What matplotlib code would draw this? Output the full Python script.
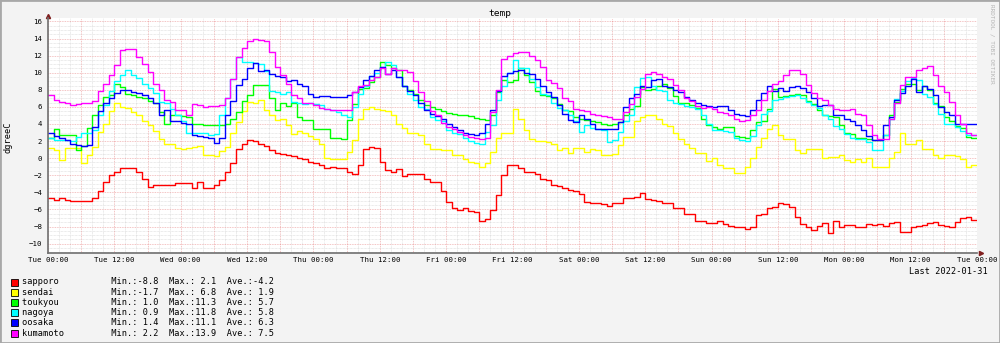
import numpy as np
import matplotlib
matplotlib.use('Agg')
import matplotlib.pyplot as plt
from matplotlib.patches import Rectangle
from matplotlib.ticker import FixedLocator, MultipleLocator

# hourly temperatures, one week starting Tue 00:00
sapporo = [
    -4.7, -4.9, -4.7, -4.9, -5.0, -5.0, -5.0, -5.0, -4.7, -3.9, -2.8, -2.0, -1.6, -1.2,
    -1.1, -1.1, -1.6, -2.4, -3.35, -3.1, -3.1, -3.2, -3.2, -2.85, -2.95, -2.85, -3.5, -2.8,
    -3.5, -3.5, -3.2, -2.6, -1.6, -0.6, 1.1, 1.7, 2.1, 2.0, 1.7, 1.45, 0.9, 0.6,
    0.5, 0.35, 0.2, 0.0, -0.1, -0.4, -0.6, -0.8, -1.1, -1.0, -1.1, -1.2, -1.6, -1.8,
    -0.8, 1.1, 1.3, 1.2, -0.4, -1.4, -1.6, -1.3, -2.1, -1.8, -1.9, -1.9, -2.4, -2.8,
    -2.8, -3.9, -5.1, -5.8, -6.1, -5.8, -6.2, -6.35, -7.4, -7.1, -6.1, -4.3, -2.0, -0.8,
    -0.8, -1.1, -1.6, -1.65, -1.8, -2.4, -2.5, -3.2, -3.3, -3.5, -3.7, -3.8, -4.2, -5.1,
    -5.2, -5.3, -5.4, -5.6, -5.3, -5.3, -4.7, -4.7, -4.6, -4.1, -4.8, -4.9, -5.0, -5.2,
    -5.2, -5.8, -5.8, -6.5, -6.5, -7.4, -7.4, -7.6, -7.6, -7.4, -7.75, -7.9, -8.0, -8.1,
    -8.3, -8.0, -6.7, -6.5, -5.8, -5.75, -5.2, -5.4, -5.7, -6.85, -7.7, -8.0, -8.4, -7.9,
    -7.6, -8.8, -7.4, -8.0, -7.8, -7.8, -8.1, -8.0, -7.75, -7.85, -7.75, -7.9, -7.6, -7.45,
    -8.6, -8.7, -8.0, -7.95, -7.8, -7.6, -7.5, -7.8, -7.95, -8.1, -7.45, -7.05, -6.9, -7.2,
]
sendai = [
    1.2, 0.95, -0.2, 1.2, 1.15, 1.15, -0.6, 0.35, 1.3, 3.1, 4.05, 5.5, 6.4, 6.0,
    5.9, 5.4, 5.0, 4.4, 3.85, 3.2, 2.2, 1.7, 1.6, 1.2, 1.1, 1.2, 1.3, 1.45,
    0.4, 0.35, 0.3, 0.8, 1.3, 2.9, 4.2, 5.5, 6.6, 6.5, 6.8, 5.6, 5.1, 4.5,
    4.6, 3.85, 2.8, 3.15, 2.9, 2.6, 2.2, 1.7, 0.0, -0.1, -0.15, -0.15, 0.75, 2.1,
    4.6, 5.8, 5.95, 5.7, 5.6, 5.5, 5.1, 4.05, 3.5, 2.9, 2.9, 2.7, 1.6, 1.1,
    1.05, 0.95, 0.95, 0.4, 0.4, -0.1, -0.5, -0.6, -1.0, -0.6, 0.75, 2.4, 2.9, 2.9,
    5.7, 4.55, 3.3, 2.2, 2.05, 2.05, 1.9, 1.7, 0.95, 1.2, 0.55, 1.2, 1.2, 0.75,
    1.1, 1.0, 0.35, 0.35, 0.45, 1.5, 2.5, 2.5, 4.4, 4.8, 5.0, 5.0, 4.6, 4.05,
    3.75, 2.9, 2.2, 1.7, 1.2, 0.55, 0.55, -0.35, 0.0, -0.8, -1.1, -1.2, -1.7, -1.7,
    -1.0, 0.0, 1.3, 2.3, 3.4, 3.85, 2.7, 2.2, 2.2, 0.95, 0.6, 1.1, 1.1, 1.05,
    0.05, 0.15, 0.15, 0.4, -0.25, -0.5, -0.1, -0.4, 0.0, -1.0, -1.0, -1.0, 0.0, 0.75,
    2.9, 1.7, 1.7, 2.1, 1.1, 1.05, 0.35, 0.05, 0.35, 0.35, 0.3, -0.1, -1.0, -0.8,
]
toukyou = [
    2.4, 3.4, 2.75, 2.75, 2.7, 1.0, 1.4, 3.5, 5.0, 6.2, 7.2, 7.4, 8.7, 8.3,
    7.55, 7.4, 7.2, 7.0, 6.7, 6.4, 5.4, 4.05, 5.0, 5.0, 4.95, 4.85, 4.05, 3.95,
    3.9, 3.85, 3.85, 3.9, 4.05, 4.6, 5.4, 6.65, 7.35, 8.6, 8.6, 8.6, 7.0, 5.6,
    6.4, 6.1, 6.4, 4.8, 4.45, 4.45, 3.4, 3.4, 3.4, 2.4, 2.3, 2.2, 4.5, 6.3,
    8.05, 8.2, 8.9, 9.5, 11.25, 10.9, 10.6, 10.3, 8.5, 7.95, 7.55, 6.8, 6.2, 6.0,
    5.8, 5.5, 5.3, 5.2, 5.1, 5.0, 4.95, 4.7, 4.55, 4.45, 5.0, 7.7, 9.1, 8.9,
    9.1, 10.5, 9.7, 8.9, 7.8, 7.35, 7.3, 7.05, 6.3, 5.6, 5.5, 4.8, 4.6, 4.5,
    4.4, 4.2, 4.0, 3.9, 4.05, 4.2, 5.0, 5.7, 6.1, 8.35, 7.95, 8.1, 8.5, 8.7,
    8.2, 7.3, 6.5, 6.4, 6.2, 5.9, 4.6, 3.85, 3.65, 3.45, 3.65, 3.65, 2.6, 2.5,
    2.4, 3.3, 4.25, 4.3, 5.8, 8.1, 7.2, 7.3, 7.35, 7.45, 7.35, 6.65, 6.3, 5.6,
    5.1, 4.9, 4.8, 3.85, 2.9, 2.8, 2.3, 2.3, 2.2, 2.1, 2.1, 2.7, 5.0, 6.6,
    8.1, 8.7, 8.7, 8.0, 8.45, 8.0, 6.5, 6.1, 4.8, 4.3, 3.75, 3.5, 2.5, 2.35,
]
nagoya = [
    2.3, 2.1, 2.1, 2.1, 2.0, 2.5, 2.9, 3.0, 3.3, 5.0, 6.2, 7.9, 9.0, 9.7,
    10.3, 9.7, 9.4, 8.7, 8.2, 7.6, 6.6, 6.4, 5.8, 5.0, 4.4, 3.0, 2.9, 2.9,
    2.9, 2.75, 2.8, 5.0, 7.0, 9.3, 11.8, 11.25, 11.25, 11.1, 11.05, 10.2, 7.9, 7.7,
    7.5, 7.7, 6.6, 6.4, 6.3, 6.4, 6.3, 6.2, 5.8, 5.6, 5.4, 5.0, 4.8, 6.0,
    7.45, 8.45, 9.6, 10.0, 10.7, 11.2, 10.9, 9.5, 8.5, 7.55, 6.8, 6.0, 5.7, 4.8,
    4.5, 4.3, 3.3, 3.0, 2.8, 2.3, 2.0, 1.8, 1.7, 3.1, 3.85, 6.8, 8.5, 10.0,
    11.45, 10.55, 10.5, 9.3, 8.35, 7.5, 7.35, 6.5, 5.9, 5.6, 5.0, 4.3, 3.1, 3.9,
    3.55, 3.4, 3.35, 1.9, 2.1, 3.1, 4.3, 5.0, 8.3, 9.4, 9.5, 8.5, 8.0, 7.8,
    6.8, 6.4, 6.3, 6.1, 5.95, 5.7, 5.0, 4.0, 3.3, 3.3, 3.2, 3.1, 2.3, 2.1,
    2.0, 2.6, 3.85, 5.2, 5.5, 6.8, 6.9, 7.1, 7.3, 7.35, 7.0, 6.6, 6.2, 5.9,
    5.0, 4.6, 3.8, 3.4, 2.8, 2.4, 2.2, 2.2, 1.9, 0.95, 0.95, 2.7, 4.55, 6.9,
    7.9, 9.0, 9.4, 9.2, 7.5, 7.15, 6.3, 5.2, 4.05, 4.0, 3.7, 3.2, 2.75, 2.7,
]
oosaka = [
    2.9, 2.6, 2.3, 2.1, 1.7, 1.5, 1.4, 1.5, 3.65, 5.5, 6.4, 7.0, 7.6, 7.95,
    7.95, 7.75, 7.6, 7.35, 7.0, 6.4, 5.1, 5.6, 4.4, 4.3, 4.1, 4.05, 2.7, 2.55,
    2.5, 2.4, 1.8, 2.4, 5.0, 6.65, 8.6, 9.3, 10.5, 11.1, 10.2, 10.3, 9.9, 9.6,
    9.5, 9.0, 9.1, 8.7, 8.45, 7.55, 7.15, 7.3, 7.3, 7.2, 7.1, 7.15, 7.35, 7.75,
    8.35, 9.1, 9.6, 10.3, 10.7, 9.9, 10.3, 9.5, 8.5, 7.8, 7.35, 6.45, 5.6, 5.2,
    4.9, 4.55, 4.05, 3.65, 3.3, 3.0, 2.8, 2.7, 2.9, 4.0, 5.6, 7.8, 9.6, 10.0,
    10.2, 10.3, 10.0, 9.9, 9.3, 8.5, 7.7, 7.1, 6.2, 5.2, 4.5, 4.25, 5.0, 4.6,
    4.0, 3.45, 3.4, 3.4, 3.4, 4.25, 6.0, 7.05, 7.55, 8.5, 8.35, 9.2, 9.25, 8.5,
    8.35, 7.95, 7.75, 7.15, 6.8, 6.4, 6.2, 6.1, 6.0, 6.1, 6.1, 5.6, 5.2, 5.0,
    4.9, 5.6, 6.8, 7.6, 8.45, 7.8, 8.2, 7.9, 8.3, 8.4, 8.2, 7.7, 7.05, 6.1,
    6.2, 6.2, 5.1, 5.0, 4.6, 4.3, 3.85, 3.3, 2.6, 2.1, 2.1, 3.85, 4.8, 6.8,
    7.6, 8.45, 9.3, 7.75, 8.45, 8.05, 7.35, 6.0, 5.4, 5.1, 4.05, 4.05, 4.0, 4.05,
]
kumamoto = [
    7.35, 6.8, 6.6, 6.5, 6.2, 6.3, 6.4, 6.5, 6.65, 7.8, 8.7, 9.7, 10.9, 12.6,
    12.8, 12.8, 11.8, 11.05, 10.1, 8.7, 7.95, 6.8, 6.6, 5.6, 5.6, 5.0, 6.3, 6.2,
    6.0, 6.1, 6.1, 6.2, 7.0, 9.3, 11.8, 12.9, 13.7, 13.9, 13.8, 13.7, 12.4, 10.7,
    9.7, 8.7, 7.35, 7.0, 6.5, 6.4, 6.2, 5.9, 5.7, 5.6, 5.6, 5.6, 5.6, 7.7,
    8.5, 8.6, 9.1, 9.5, 10.55, 9.9, 10.5, 10.3, 10.3, 10.1, 9.0, 7.75, 6.65, 5.5,
    5.0, 4.15, 3.65, 3.4, 3.1, 2.75, 2.5, 2.3, 2.2, 2.4, 5.4, 7.95, 11.65, 11.95,
    12.35, 12.4, 12.4, 12.0, 11.45, 10.7, 9.1, 8.8, 8.2, 7.0, 6.65, 5.7, 5.6, 5.5,
    5.2, 5.0, 4.9, 4.8, 4.6, 4.55, 5.4, 6.3, 7.15, 8.15, 9.9, 10.1, 9.8, 9.5,
    9.3, 8.6, 7.95, 7.05, 6.65, 6.1, 5.9, 6.0, 5.8, 5.35, 5.3, 5.1, 4.6, 4.4,
    4.45, 5.0, 5.6, 6.8, 7.8, 8.7, 9.0, 9.7, 10.3, 10.3, 9.8, 8.6, 7.6, 7.0,
    6.8, 6.2, 5.7, 5.6, 5.6, 5.7, 5.2, 5.0, 3.9, 2.75, 2.2, 2.2, 4.6, 6.5,
    8.6, 9.5, 9.5, 10.3, 10.5, 10.8, 9.7, 8.5, 7.7, 6.6, 5.0, 4.05, 2.9, 2.75,
]

names = ['sapporo', 'sendai', 'toukyou', 'nagoya', 'oosaka', 'kumamoto']
colors = ['#FF0000', '#FFFF00', '#00FF00', '#00FFFF', '#0000FF', '#FF00FF']
series = [sapporo, sendai, toukyou, nagoya, oosaka, kumamoto]
stat_min = ['-8.8', '-1.7', ' 1.0', ' 0.9', ' 1.4', ' 2.2']
stat_max = [' 2.1', ' 6.8', '11.3', '11.8', '11.1', '13.9']
stat_ave = ['-4.2', ' 1.9', ' 5.7', ' 5.8', ' 6.3', ' 7.5']
day_labels = ['Tue 00:00', 'Tue 12:00', 'Wed 00:00', 'Wed 12:00', 'Thu 00:00',
              'Thu 12:00', 'Fri 00:00', 'Fri 12:00', 'Sat 00:00', 'Sat 12:00',
              'Sun 00:00', 'Sun 12:00', 'Mon 00:00', 'Mon 12:00', 'Tue 00:00']

mono = 'DejaVu Sans Mono'
W, H = 1000, 343
fig = plt.figure(figsize=(W / 100, H / 100), dpi=100, facecolor='#F3F3F3')
ax = fig.add_axes([48 / W, 1 - 253 / H, 929 / W, 235 / H])
ax.set_facecolor('white')

for vals, col in zip(series, colors):
    v = np.append(vals, vals[-1])
    ax.step(np.arange(len(v)), v, where='post', color=col, lw=1.0)

ax.set_xlim(0, 168)
ax.set_ylim(-11.1, 16.4)

xt = np.arange(0, 169, 6)
xlabels = []
for i in range(len(xt)):
    xlabels.append(day_labels[i // 2] if i % 2 == 0 else '')
ax.xaxis.set_major_locator(FixedLocator(xt))
ax.set_xticklabels(xlabels)
ax.xaxis.set_minor_locator(MultipleLocator(2))
ax.yaxis.set_major_locator(MultipleLocator(2))
ax.yaxis.set_minor_locator(MultipleLocator(0.5))

ax.grid(which='minor', color=(0.56, 0.56, 0.56), alpha=0.35, lw=0.5, ls=(0, (1, 1)))
ax.grid(which='major', color=(0.87, 0.31, 0.31), alpha=0.45, lw=0.6, ls=(0, (1, 1)))
ax.set_axisbelow(True)

for s in ['top', 'right']:
    ax.spines[s].set_visible(False)
for s in ['left', 'bottom']:
    ax.spines[s].set_color('#707070')
    ax.spines[s].set_linewidth(1.2)

ax.tick_params(which='both', length=0, labelsize=5.3, pad=4)
ax.tick_params(axis='x', pad=3)
for lab in ax.get_xticklabels() + ax.get_yticklabels():
    lab.set_fontfamily(mono)

# axis arrows
ax.plot([1.004], [0], marker='>', ms=3, color='#801F1F', transform=ax.transAxes, clip_on=False)
ax.plot([0], [1.008], marker='^', ms=3, color='#801F1F', transform=ax.transAxes, clip_on=False)

fig.text(0.5, 1 - 14 / H, 'temp', ha='center', va='center', fontsize=6.8, family=mono)
fig.text(8 / W, 1 - 137 / H, 'dgreeC', rotation=90, ha='center', va='center', fontsize=6.2, family=mono)
fig.text(988 / W, 1 - 272 / H, 'Last 2022-01-31', ha='right', va='center', fontsize=6.2, family=mono)
fig.text(992.5 / W, 1 - 44 / H, 'RRDTOOL / TOBI OETIKER', rotation=270, ha='center', va='center',
         fontsize=4.3, family=mono, color='#B5B5B5')

# legend rows
for i, name in enumerate(names):
    yc = 282 + i * 10.2
    fig.patches.append(Rectangle((11 / W, 1 - (yc + 3.5) / H), 6.5 / W, 7 / H,
                                 transform=fig.transFigure, fc=colors[i], ec='black', lw=0.6))
    line = '{:<17}Min.:{}  Max.:{}  Ave.:{}'.format(name, stat_min[i], stat_max[i], stat_ave[i])
    fig.text(21.7 / W, 1 - yc / H, line, ha='left', va='center', fontsize=6.2, family=mono)

fig.patches.append(Rectangle((0, 0), 1, 1, transform=fig.transFigure, fill=False, ec='#A8A8A8', lw=2))

fig.savefig('out.png', dpi=100, facecolor=fig.get_facecolor())
